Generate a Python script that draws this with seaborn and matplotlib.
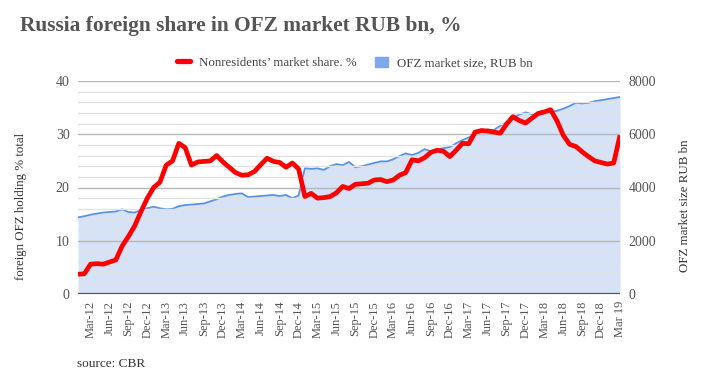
import matplotlib
matplotlib.use("Agg")
import matplotlib.pyplot as plt
import seaborn as sns
import numpy as np
import pandas as pd
from matplotlib.patches import Patch
from matplotlib.lines import Line2D

# ---- data (monthly, Jan-2012 .. Mar-2019) ----
nonres_share = [3.7, 3.8, 5.6, 5.7, 5.6, 6.0, 6.4, 9.0, 10.8, 12.8, 15.5, 18.0,
                20.0, 21.0, 24.2, 25.0, 28.3, 27.5, 24.2, 24.8, 24.9, 25.0, 26.0, 24.8,
                23.8, 22.8, 22.3, 22.4, 23.0, 24.3, 25.5, 24.9, 24.7, 23.8, 24.6, 23.5,
                18.3, 18.9, 18.0, 18.1, 18.3, 19.0, 20.2, 19.8, 20.6, 20.7, 20.8, 21.4,
                21.5, 21.1, 21.4, 22.3, 22.8, 25.2, 25.0, 25.6, 26.6, 27.0, 26.8, 25.8,
                27.0, 28.3, 28.2, 30.4, 30.7, 30.6, 30.4, 30.2, 31.9, 33.3, 32.6, 32.1,
                33.0, 33.9, 34.2, 34.6, 32.5, 29.8, 28.1, 27.7, 26.7, 25.8, 25.0, 24.7,
                24.4, 24.6, 29.8]
market_size = [2880, 2920, 2980, 3020, 3060, 3080, 3100, 3180, 3080, 3060, 3160, 3220,
               3280, 3220, 3180, 3200, 3300, 3340, 3360, 3380, 3400, 3480, 3560, 3660,
               3720, 3760, 3780, 3640, 3660, 3680, 3700, 3720, 3680, 3720, 3600, 3700,
               4720, 4700, 4720, 4660, 4800, 4880, 4840, 4960, 4760, 4800, 4860, 4920,
               4980, 4980, 5060, 5180, 5280, 5220, 5300, 5440, 5360, 5420, 5480, 5520,
               5660, 5780, 5880, 6000, 6100, 6180, 6160, 6320, 6440, 6600, 6740, 6820,
               6760, 6720, 6800, 6840, 6880, 6960, 7060, 7180, 7160, 7180, 7240, 7280,
               7320, 7360, 7400]
tick_labels = ["Mar-12", "Jun-12", "Sep-12", "Dec-12", "Mar-13", "Jun-13", "Sep-13", "Dec-13",
               "Mar-14", "Jun-14", "Sep-14", "Dec-14", "Mar-15", "Jun-15", "Sep-15", "Dec-15",
               "Mar-16", "Jun-16", "Sep-16", "Dec-16", "Mar-17", "Jun-17", "Sep-17", "Dec-17",
               "Mar-18", "Jun-18", "Sep-18", "Dec-18", "Mar 19"]
legend_labels = ["Nonresidents’ market share. %", "OFZ market size, RUB bn"]

months = np.arange(len(nonres_share))
df = pd.DataFrame({"m": months, "share": nonres_share, "size": market_size})

sns.set_theme(style="white")
serif = ["Liberation Serif", "DejaVu Serif"]
plt.rcParams["font.family"] = serif

fig = plt.figure(figsize=(7.11, 3.83), dpi=100)
ax = fig.add_axes([78/711, 1-294/383, (620-78)/711, (294-81)/383])
ax2 = ax.twinx()

FILL = "#d5e2f7"
BLUE = "#5a92e6"
RED = "#ff0000"
TXT = "#555555"

# market size (right axis) - area + line
ax2.fill_between(df["m"], 0, df["size"], color=FILL, lw=0, zorder=1)
sns.lineplot(data=df, x="m", y="size", ax=ax2, color=BLUE, lw=1.3, zorder=2)
ax2.set_ylim(0, 8000)
ax2.set_yticks([0, 2000, 4000, 6000, 8000])

# share (left axis) on top
ax.set_zorder(ax2.get_zorder() + 1)
ax.patch.set_visible(False)
sns.lineplot(data=df, x="m", y="share", ax=ax, color=RED, lw=3.4, zorder=5,
             solid_capstyle="butt")
ax.set_ylim(0, 40)
ax.set_xlim(0, len(nonres_share) - 1)
ax.set_yticks([0, 10, 20, 30, 40])
ax.set_yticks(np.arange(0, 41, 2), minor=True)
ax.grid(True, which="major", axis="y", color="#b8b8b8", lw=1.0, zorder=0)
ax.grid(True, which="minor", axis="y", color="#e2e2e2", lw=1.0, zorder=0)
ax.grid(False, axis="x")
ax2.grid(False)
ax.axhline(0, color="#555555", lw=1.6, zorder=6)

tick_pos = np.arange(2, len(nonres_share), 3)
ax.set_xticks(tick_pos)
ax.set_xticklabels(tick_labels, rotation=90, fontsize=9, color=TXT)
ax.tick_params(axis="x", length=0, pad=5)
ax.tick_params(axis="y", which="both", length=0, labelsize=10, labelcolor=TXT, pad=6)
ax2.tick_params(axis="y", length=0, labelsize=10, labelcolor=TXT, pad=6)

for a in (ax, ax2):
    for s in a.spines.values():
        s.set_visible(False)

ax.set_xlabel("")
ax.set_ylabel("foreign OFZ holding % total", fontsize=9.3, color="#333333")
ax.yaxis.set_label_coords((27-78)/542, (294-206)/213)
ax2.set_ylabel("OFZ market size RUB bn", fontsize=9.3, color="#333333", rotation=90)
ax2.yaxis.set_label_coords((679-78)/542, (294-206)/213)

# title & legend
fig.text(20/711, 1-31.5/383, "Russia foreign share in OFZ market RUB bn, %", fontsize=15.4,
         fontweight="bold", color=TXT, ha="left", va="baseline")
handles = [Line2D([0], [0], color=RED, lw=3.8),
           Patch(facecolor="#7fa8ec", edgecolor="#7fa8ec")]
fig.legend(handles, legend_labels,
           loc="center", bbox_to_anchor=(355/711, 1-63/383), ncol=2, frameon=False,
           fontsize=9.3, handlelength=1.0, handleheight=0.9, columnspacing=1.4,
           handletextpad=0.7, labelcolor="#444444")

fig.text(77/711, 1-364/383, "source: CBR", fontsize=9.5, color="#333333", ha="left", va="center")

fig.savefig("out.png", dpi=100, facecolor="white")
